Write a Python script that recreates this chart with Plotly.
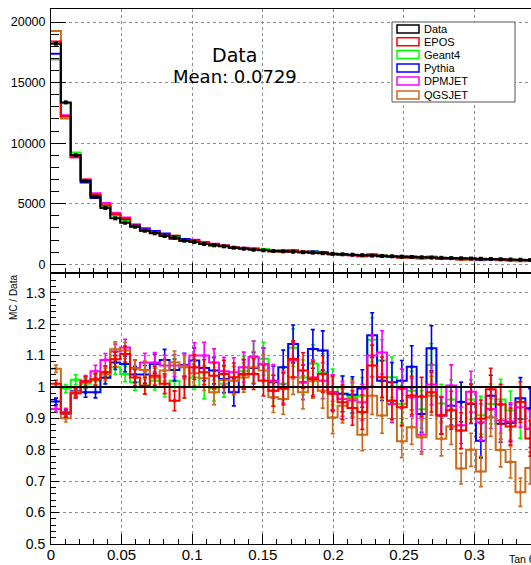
import numpy as np
import plotly.graph_objects as go

# ---------------- data ----------------
BIN_WIDTH = 0.007

data_counts = [18210, 13365, 9017, 6872, 5577, 4650, 3795, 3432, 3102, 2772,
               2557, 2335, 2195, 1947, 1840, 1675, 1567, 1485, 1370, 1287,
               1205, 1155, 1097, 1072, 1040, 1000, 962, 918, 862, 826,
               790, 752, 718, 690, 662, 628, 602, 578, 553, 534,
               512, 494, 474, 456, 437, 414, 396, 377, 356]

ratio_epos = [1.010, 0.916, 0.980, 1.017, 1.024, 1.047, 1.088, 1.105, 1.030, 1.004,
              1.036, 1.010, 0.956, 1.000, 1.063, 1.047, 1.036, 1.041, 1.031, 1.041,
              1.041, 1.020, 0.988, 0.994, 1.089, 1.052, 1.025, 1.041, 0.978, 0.951,
              0.933, 0.920, 1.068, 1.031, 0.956, 0.935, 0.973, 0.969, 0.983, 0.909,
              0.926, 0.861, 0.947, 0.899, 0.993, 0.945, 0.874, 0.952, 0.836]

ratio_geant4 = [0.930, 0.995, 1.023, 1.010, 1.020, 1.030, 1.063, 1.041, 1.015, 1.005,
                1.020, 1.000, 1.020, 1.000, 1.030, 1.000, 0.995, 1.010, 1.020, 1.050,
                1.095, 1.090, 0.988, 1.010, 1.125, 1.030, 1.075, 1.047, 1.000, 0.978,
                0.968, 0.972, 1.150, 1.084, 1.031, 0.946, 0.988, 0.929, 1.070, 0.947,
                0.960, 0.952, 0.960, 0.910, 0.946, 0.960, 0.925, 0.898, 0.930]

ratio_pythia = [0.954, 0.915, 0.986, 0.983, 0.983, 1.029, 1.078, 1.073, 1.040, 1.040,
                1.073, 1.086, 1.054, 1.070, 1.084, 1.060, 1.052, 1.025, 0.983, 1.040,
                1.060, 1.073, 1.015, 1.063, 1.137, 1.015, 1.121, 1.116, 0.983, 0.978,
                0.975, 0.995, 1.165, 1.020, 1.015, 1.020, 1.064, 0.914, 1.123, 0.909,
                0.940, 0.952, 0.946, 0.829, 0.972, 0.883, 0.885, 0.964, 0.932]

ratio_dpmjet = [0.930, 0.920, 0.980, 1.020, 1.050, 1.086, 1.113, 1.126, 1.060, 1.078,
                1.078, 1.068, 1.068, 1.068, 1.100, 1.100, 1.078, 1.050, 1.047, 1.063,
                1.095, 1.073, 1.020, 1.000, 1.084, 1.015, 1.030, 1.020, 0.983, 0.962,
                0.957, 0.951, 1.100, 1.110, 0.946, 0.994, 0.967, 0.848, 1.008, 0.910,
                1.005, 0.878, 0.985, 0.888, 0.930, 0.893, 0.890, 0.935, 0.866]

ratio_qgsjet = [1.058, 0.900, 0.985, 1.015, 1.025, 1.040, 1.120, 1.116, 1.058, 1.054,
                1.030, 1.052, 1.079, 1.063, 1.044, 1.028, 0.983, 1.022, 1.020, 1.030,
                1.063, 1.052, 0.967, 0.962, 1.031, 0.983, 1.020, 0.988, 0.903, 0.940,
                0.962, 0.848, 0.972, 0.909, 0.956, 0.827, 0.872, 0.840, 0.972, 0.835,
                0.874, 0.740, 0.800, 0.731, 0.903, 0.799, 0.761, 0.665, 0.742]

ratio_err = [0.011, 0.013, 0.015, 0.016, 0.018, 0.019, 0.021, 0.023, 0.025, 0.027,
             0.029, 0.031, 0.033, 0.035, 0.037, 0.038, 0.040, 0.042, 0.044, 0.045,
             0.047, 0.048, 0.050, 0.051, 0.053, 0.054, 0.055, 0.056, 0.057, 0.058,
             0.059, 0.060, 0.061, 0.062, 0.062, 0.063, 0.063, 0.064, 0.064, 0.065,
             0.065, 0.066, 0.066, 0.066, 0.067, 0.067, 0.067, 0.068, 0.068]

model_names = ["EPOS", "Geant4", "Pythia", "DPMJET", "QGSJET"]
model_colors = ["#ff0000", "#00ff00", "#0000ff", "#ff00ff", "#cc6a1c"]
model_ratios = [ratio_epos, ratio_geant4, ratio_pythia, ratio_dpmjet, ratio_qgsjet]

legend_labels = ["Data", "EPOS", "Geant4", "Pythia", "DPMJET", "QGSJET"]
legend_colors = ["#000000"] + model_colors

x_tick_vals = [0, 0.05, 0.1, 0.15, 0.2, 0.25, 0.3]
x_tick_text = ["0", "0.05", "0.1", "0.15", "0.2", "0.25", "0.3"]
top_y_tick_vals = [0, 5000, 10000, 15000, 20000]
top_y_tick_text = ["0", "5000", "10000", "15000", "20000"]
ratio_y_tick_vals = [0.5, 0.6, 0.7, 0.8, 0.9, 1.0, 1.1, 1.2, 1.3]
ratio_y_tick_text = ["0.5", "0.6", "0.7", "0.8", "0.9", "1", "1.1", "1.2", "1.3"]

# ---------------- geometry ----------------
W, H = 531, 565
L, R, T, B = 51, 0, 9, 21
PW, PH = W - L - R, H - T - B
SPLIT = 271 / PH  # ratio pad height fraction

X_MAX = 0.34
TOP_Y_RANGE = [-718, 21073]
RATIO_Y_RANGE = [0.5, 1.3628]


def px(xp):
    return (xp - L) / PW


def py(yp):
    return (H - B - yp) / PH


n = len(data_counts)
edges = np.arange(n + 1) * BIN_WIDTH
centers = (edges[:-1] + edges[1:]) / 2
data_arr = np.array(data_counts, dtype=float)

FONT = "Liberation Sans, Arial, sans-serif"

fig = go.Figure()

# ---------------- top pad ----------------
order_top = [4, 3, 2, 1, 0]
for k in order_top:
    vals = data_arr * np.array(model_ratios[k])
    fig.add_trace(go.Scatter(
        x=edges, y=list(vals) + [vals[-1]], mode="lines", line_shape="hv",
        line=dict(color=model_colors[k], width=2), xaxis="x", yaxis="y",
        showlegend=False, hoverinfo="skip"))

fig.add_trace(go.Scatter(
    x=edges, y=list(data_arr) + [data_arr[-1]], mode="lines", line_shape="hv",
    line=dict(color="black", width=2), xaxis="x", yaxis="y",
    showlegend=False, hoverinfo="skip"))
fig.add_trace(go.Scatter(
    x=centers, y=data_arr, mode="markers",
    marker=dict(symbol="square", size=4, color="black"),
    xaxis="x", yaxis="y", showlegend=False, hoverinfo="skip"))

# ---------------- ratio pad ----------------
order_ratio = [1, 2, 3, 4, 0]
for k in order_ratio:
    r = np.array(model_ratios[k])
    err = np.array(ratio_err) * r
    fig.add_trace(go.Scatter(
        x=edges, y=list(r) + [r[-1]], mode="lines", line_shape="hv",
        line=dict(color=model_colors[k], width=2), xaxis="x2", yaxis="y2",
        showlegend=False, hoverinfo="skip"))
    fig.add_trace(go.Scatter(
        x=centers, y=r, mode="markers",
        marker=dict(symbol="square", size=3, color=model_colors[k]),
        error_y=dict(type="data", array=err, visible=True,
                     color=model_colors[k], thickness=1.6, width=2),
        xaxis="x2", yaxis="y2", showlegend=False, hoverinfo="skip"))

fig.add_trace(go.Scatter(
    x=[edges[0], edges[-1]], y=[1.0, 1.0], mode="lines",
    line=dict(color="black", width=2), xaxis="x2", yaxis="y2",
    showlegend=False, hoverinfo="skip"))

grid = dict(showgrid=True, griddash="dot", gridcolor="#8c8c8c", gridwidth=1)
axline = dict(showline=True, linecolor="black", linewidth=1, zeroline=False)

fig.update_layout(
    width=W, height=H,
    margin=dict(l=L, r=R, t=T, b=B, pad=0),
    paper_bgcolor="white", plot_bgcolor="white",
    showlegend=False,
    xaxis=dict(domain=[0, 1], anchor="y", range=[0, X_MAX],
               tickmode="array", tickvals=x_tick_vals, ticktext=x_tick_text,
               showticklabels=False, ticks="inside", ticklen=10, tickcolor="black",
               minor=dict(ticks="inside", ticklen=5, tickmode="linear", tick0=0,
                          dtick=0.01, tickcolor="black", showgrid=False),
               mirror=True, **grid, **axline),
    yaxis=dict(domain=[SPLIT, 1], anchor="x", range=TOP_Y_RANGE,
               tickmode="array", tickvals=top_y_tick_vals, ticktext=top_y_tick_text,
               ticks="inside", ticklen=15, tickcolor="black",
               minor=dict(ticks="inside", ticklen=8, tickmode="linear", tick0=0,
                          dtick=1000, tickcolor="black", showgrid=False),
               tickfont=dict(family=FONT, size=12.5, color="black"),
               ticklabelstandoff=2,
               mirror=True, **grid, **axline),
    xaxis2=dict(domain=[0, 1], anchor="y2", range=[0, X_MAX], matches="x",
                tickmode="array", tickvals=x_tick_vals, ticktext=x_tick_text,
                ticks="inside", ticklen=10, tickcolor="black",
                minor=dict(ticks="inside", ticklen=5, tickmode="linear", tick0=0,
                           dtick=0.01, tickcolor="black", showgrid=False),
                tickfont=dict(family=FONT, size=15, color="black"),
                ticklabelstandoff=-3,
                mirror="ticks", **grid, **axline),
    yaxis2=dict(domain=[0, SPLIT], anchor="x2", range=RATIO_Y_RANGE,
                tickmode="array", tickvals=ratio_y_tick_vals, ticktext=ratio_y_tick_text,
                ticks="inside", ticklen=8, tickcolor="black",
                minor=dict(ticks="inside", ticklen=5, tickmode="linear", tick0=0,
                           dtick=0.02, tickcolor="black", showgrid=False),
                tickfont=dict(family=FONT, size=14, color="black"),
                ticklabelstandoff=2,
                mirror=True, **grid, **axline),
)

annotations = [
    dict(text="Data", x=px(234), y=py(55), xref="paper", yref="paper",
         showarrow=False, xanchor="center", yanchor="middle",
         font=dict(family="DejaVu Sans", size=19, color="black")),
    dict(text="Mean: 0.0729", x=px(234.5), y=py(77), xref="paper", yref="paper",
         showarrow=False, xanchor="center", yanchor="middle",
         font=dict(family="DejaVu Sans", size=18, color="black")),
    dict(text="MC / Data", x=px(13), y=py(298), xref="paper", yref="paper",
         showarrow=False, xanchor="center", yanchor="middle", textangle=-90,
         font=dict(family=FONT, size=10, color="black")),
    dict(text="Tan θ", x=px(507), y=py(559), xref="paper", yref="paper",
         showarrow=False, xanchor="left", yanchor="middle",
         font=dict(family=FONT, size=10.5, color="black")),
]

shapes = [
    dict(type="rect", xref="paper", yref="paper",
         x0=px(392), x1=px(515), y0=py(102), y1=py(22),
         line=dict(color="#555555", width=1), fillcolor="white", layer="above"),
]

entry_y = [29, 41.7, 54.5, 68, 81, 95]
for lab, col, ey in zip(legend_labels, legend_colors, entry_y):
    shapes.append(dict(type="rect", xref="paper", yref="paper",
                       x0=px(397), x1=px(419), y0=py(ey + 4), y1=py(ey - 4),
                       line=dict(color=col, width=1.5), fillcolor="white", layer="above"))
    annotations.append(dict(text=lab, x=px(423), y=py(ey), xref="paper", yref="paper",
                            showarrow=False, xanchor="left", yanchor="middle",
                            borderpad=0,
                            font=dict(family=FONT, size=11, color="black")))

fig.update_layout(annotations=annotations, shapes=shapes)

fig.write_html("out.html", config={"displayModeBar": False},
               post_script="document.body.style.margin='0px';document.body.style.overflow='hidden';")
